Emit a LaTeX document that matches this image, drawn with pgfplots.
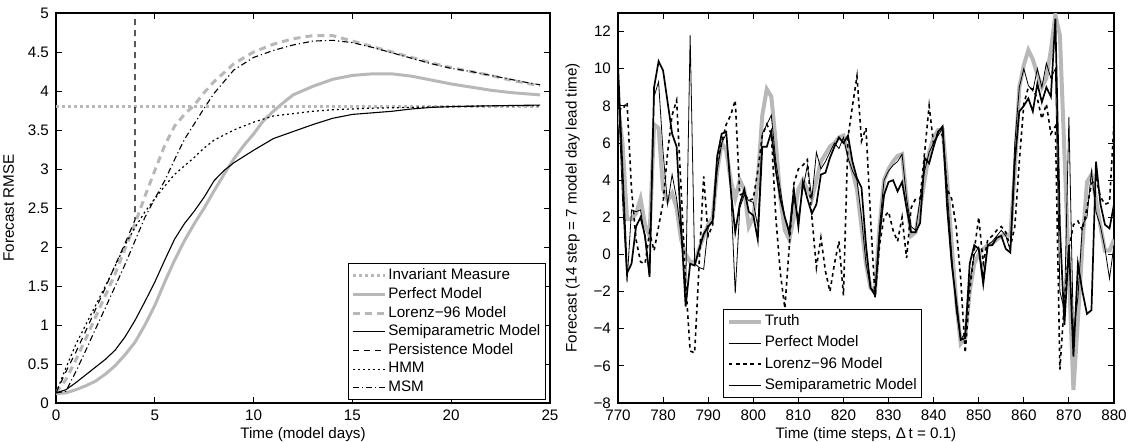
\documentclass[border=0pt]{standalone}
\usepackage{fontspec}
\setmainfont{Liberation Sans}
\usepackage{pgfplots}
\usepackage{pgfplotstable}
\pgfplotsset{compat=1.18}
\definecolor{lgray}{gray}{0.72}

% forecast at 14 steps: truth, perfect, lorenz-96, semiparametric
\pgfplotstableread{
t T P L S
770 8.0 9.0 7.9 10.2
771 6.0 3.0 7.8 4.5
772 1.9 -1.5 8.2 -1.0
773 1.9 2.4 3.5 -0.5
774 2.2 2.3 0.8 1.5
775 3.0 2.4 -0.4 2.0
776 1.6 0.8 -0.5 1.0
777 1.0 -1.2 1.2 -1.2
778 7.0 8.5 0.2 9.0
779 6.8 9.3 1.5 10.4
780 3.5 5.5 2.8 9.9
781 2.9 2.7 5.5 8.2
782 3.3 4.3 7.5 6.5
783 2.5 3.0 8.3 5.8
784 0.8 1.0 3.5 1.5
785 0.0 -2.0 -1.5 -2.8
786 -0.4 11.8 -5.2 -0.5
787 -0.4 -0.5 -5.3 -0.6
788 0.3 -0.7 -0.5 0.3
789 1.0 -0.8 4.2 1.1
790 1.6 1.5 1.0 1.5
791 2.0 1.8 1.6 1.8
792 4.5 4.5 5.0 5.3
793 6.0 6.0 6.0 6.5
794 5.6 6.5 7.0 6.6
795 4.0 3.5 7.5 3.5
796 3.0 -2.1 8.3 1.2
797 4.0 2.5 3.2 2.7
798 3.5 3.2 3.3 3.5
799 1.5 2.9 2.9 2.3
800 2.0 2.8 3.0 2.1
801 4.0 1.5 4.5 0.8
802 7.5 6.5 6.4 5.8
803 8.9 7.0 7.0 5.8
804 8.5 7.5 6.5 6.6
805 6.0 5.0 2.0 4.5
806 3.0 3.5 -1.0 3.0
807 1.3 2.0 -2.9 2.0
808 0.8 1.0 0.5 1.2
809 2.0 3.0 3.8 3.5
810 3.5 2.0 4.6 1.5
811 4.0 3.5 4.8 3.9
812 3.5 4.8 5.1 3.0
813 3.0 3.0 2.0 2.2
814 4.0 5.5 -0.7 2.7
815 5.0 4.6 0.9 4.3
816 5.4 5.0 -0.9 4.4
817 5.8 5.5 -2.0 5.2
818 6.0 6.0 -0.5 5.8
819 6.3 5.7 0.7 6.3
820 6.4 6.3 -2.2 6.0
821 5.5 5.2 6.3 6.4
822 4.5 4.5 8.0 5.0
823 3.5 4.0 9.6 4.1
824 1.5 2.0 6.1 3.6
825 -0.5 -0.5 6.8 0.5
826 -1.8 -1.8 2.0 -1.8
827 -2.0 -2.0 -2.3 -2.2
828 1.5 1.5 0.5 1.0
829 4.0 4.0 2.0 3.2
830 4.6 4.5 2.3 3.9
831 5.0 4.8 1.3 4.0
832 5.3 5.0 0.7 3.4
833 5.4 5.4 2.0 3.9
834 3.0 3.0 -0.2 2.5
835 1.0 1.5 2.5 1.2
836 1.2 1.3 3.0 1.2
837 2.5 3.0 3.0 1.7
838 4.0 4.5 5.5 5.2
839 5.5 5.5 8.0 4.9
840 6.3 6.0 5.9 5.8
841 6.7 6.4 6.6 6.6
842 6.7 6.8 6.4 6.9
843 4.0 3.5 3.5 2.5
844 0.5 0.0 3.0 -0.5
845 -2.5 -3.0 1.5 -2.5
846 -4.8 -4.6 -1.3 -4.6
847 -4.5 -4.2 -5.3 -4.5
848 -2.0 -1.5 -2.0 -0.5
849 -0.5 0.0 0.2 0.5
850 0.0 0.4 2.0 0.3
851 0.3 -1.2 -0.5 -1.6
852 0.5 0.5 0.8 0.5
853 0.6 0.7 1.0 0.5
854 0.8 1.0 1.3 0.9
855 1.0 1.3 1.5 1.0
856 1.1 1.0 1.2 0.3
857 1.0 0.2 0.4 0.1
858 4.5 6.0 1.5 5.0
859 9.0 9.0 5.0 7.7
860 10.2 10.0 8.1 8.0
861 11.0 9.1 9.0 8.4
862 10.5 8.8 8.9 7.7
863 9.7 10.0 8.4 9.2
864 9.0 9.0 7.3 8.2
865 9.5 10.3 8.1 9.0
866 11.0 9.5 6.5 8.5
867 12.9 10.0 6.9 12.7
868 11.8 -2.0 -6.2 1.5
869 5.5 -3.0 -2.5 -3.8
870 -1.0 7.4 0.3 0.5
871 -7.3 -4.3 1.6 -5.5
872 -3.5 -2.3 1.8 -0.5
873 0.5 1.6 1.3 -2.0
874 3.9 2.0 2.5 -3.2
875 4.3 4.5 3.8 -3.0
876 3.0 2.3 4.1 5.0
877 1.5 1.5 3.1 2.7
878 0.2 0.3 2.7 1.6
879 0.2 -1.3 2.8 1.4
880 0.8 0.5 7.1 2.7
}\fcast

\pgfplotsset{
  matstyle/.style={
    scale only axis,
    width=247pt, height=195pt,
    font=\fontsize{7.6}{9}\selectfont,
    axis line style={line width=0.6pt},
    tick style={line width=0.5pt, black},
    tick align=inside,
    major tick length=2.8pt,
    tick pos=both,
    xlabel style={yshift=3.5pt},
    /pgf/number format/assume math mode=true,
    /pgf/number format/fixed,
    legend cell align=left,
    legend image code/.code={
      \draw[mark repeat=2,mark phase=2] plot coordinates {(0pt,0pt) (8pt,0pt) (16pt,0pt)};},
    legend style={draw=black, line width=0.6pt,
      font=\fontsize{7.6}{9}\selectfont, inner sep=1.5pt,
      nodes={inner sep=1pt}},
  },
}

\begin{document}
\begin{tikzpicture}
\useasboundingbox (-28pt,-19pt) rectangle (536.5pt,201.5pt);

% ---- left: forecast RMSE
\begin{axis}[
  matstyle,
  at={(0,0)}, anchor=south west,
  xmin=0, xmax=25, ymin=0, ymax=5,
  xtick={0,5,10,15,20,25},
  ytick={0,0.5,1,1.5,2,2.5,3,3.5,4,4.5,5},
  xlabel={Time (model days)},
  ylabel={Forecast RMSE},
  legend style={at={(axis description cs:1,0)}, anchor=south east,
    xshift=-2pt, yshift=1.5pt, row sep=0.4pt},
]
\addplot[lgray, line width=1.5pt, dash pattern=on 1.5pt off 1.5pt]
  coordinates {(0,3.8) (24.5,3.8)};
\addlegendentry{Invariant Measure}
\addplot[lgray, line width=1.5pt]
  coordinates {(0,0.12) (0.5,0.13) (1,0.17) (1.5,0.22) (2,0.28) (2.5,0.37)
  (3,0.48) (3.5,0.62) (4,0.78) (4.5,1.0) (5,1.25) (5.5,1.55) (6,1.83)
  (6.5,2.08) (7,2.3) (7.5,2.5) (8,2.72) (8.5,2.93) (9,3.13) (9.5,3.3)
  (10,3.45) (10.5,3.62) (11,3.74) (11.5,3.85) (12,3.95) (13,4.06) (14,4.15)
  (15,4.2) (16,4.22) (17,4.22) (18,4.19) (19,4.14) (20,4.09) (21,4.05)
  (22,4.01) (23,3.98) (24,3.96) (24.5,3.95)};
\addlegendentry{Perfect Model}
\addplot[lgray, line width=1.5pt, dash pattern=on 3.5pt off 2.5pt]
  coordinates {(0,0.13) (0.5,0.3) (1,0.55) (1.5,0.82) (2,1.1) (2.5,1.38)
  (3,1.66) (3.5,1.98) (4,2.3) (4.5,2.65) (5,2.98) (5.5,3.3) (6,3.55)
  (6.5,3.7) (7,3.82) (7.5,3.98) (8,4.12) (9,4.35) (10,4.5) (11,4.6)
  (12,4.67) (13,4.71) (14,4.71) (15,4.64) (16,4.57) (17,4.5) (18,4.43)
  (19,4.36) (20,4.3) (21,4.25) (22,4.2) (23,4.14) (24,4.09) (24.5,4.07)};
\addlegendentry{Lorenz−96 Model}
\addplot[black, line width=0.55pt]
  coordinates {(0,0.13) (0.5,0.17) (1,0.26) (1.5,0.36) (2,0.46) (2.5,0.56)
  (3,0.68) (3.5,0.85) (4,1.06) (4.5,1.3) (5,1.55) (5.5,1.83) (6,2.1)
  (6.5,2.3) (7,2.46) (7.5,2.64) (8,2.85) (8.5,2.98) (9,3.08) (10,3.24)
  (11,3.39) (12,3.48) (13,3.57) (14,3.65) (15,3.7) (16,3.72) (17,3.74)
  (18,3.77) (19,3.79) (20,3.8) (22,3.81) (24.5,3.82)};
\addlegendentry{Semiparametric Model}
\addplot[black, line width=0.55pt, dash pattern=on 3pt off 2.5pt]
  coordinates {(0,0.13) (0.5,0.4) (1,0.65) (1.5,0.92) (2,1.2) (2.5,1.48)
  (3,1.77) (3.5,2.05) (4,2.35) (4,6)};
\addlegendentry{Persistence Model}
\addplot[black, line width=0.6pt, dash pattern=on 1pt off 1.5pt]
  coordinates {(0,0.13) (0.5,0.45) (1,0.75) (1.5,1.0) (2,1.25) (2.5,1.5)
  (3,1.76) (3.5,2.03) (4,2.25) (4.5,2.45) (5,2.62) (5.5,2.78) (6,2.93)
  (6.5,3.04) (7,3.15) (7.5,3.27) (8,3.37) (9,3.5) (10,3.6) (11,3.68)
  (12,3.71) (13,3.74) (14,3.76) (15,3.77) (16,3.78) (18,3.79) (20,3.8)
  (22,3.81) (24.5,3.81)};
\addlegendentry{HMM}
\addplot[black, line width=0.55pt, dash pattern=on 3pt off 1.5pt on 0.6pt off 1.5pt]
  coordinates {(0,0.13) (0.5,0.15) (1,0.4) (1.5,0.67) (2,0.95) (2.5,1.22)
  (3,1.5) (3.5,1.78) (4,2.08) (4.5,2.38) (5,2.62) (5.5,2.85) (6,3.12)
  (6.5,3.38) (7,3.58) (7.5,3.78) (8,3.97) (9,4.27) (10,4.43) (11,4.52)
  (12,4.59) (13,4.64) (14,4.65) (15,4.62) (16,4.56) (17,4.49) (18,4.42)
  (19,4.35) (20,4.29) (21,4.25) (22,4.2) (23,4.15) (24,4.1) (24.5,4.08)};
\addlegendentry{MSM}
\end{axis}

% ---- right: 14 step forecasts
\begin{axis}[
  matstyle,
  at={(281pt,0)}, anchor=south west,
  width=248pt,
  xmin=770, xmax=880, ymin=-8, ymax=13,
  xtick={770,780,...,880},
  ytick={-8,-6,-4,-2,0,2,4,6,8,10,12},
  yticklabels={−8,−6,−4,−2,0,2,4,6,8,10,12},
  xticklabel style={/pgf/number format/1000 sep={}},
  xlabel={Time (time steps, Δ\,t = 0.1)},
  ylabel={Forecast (14 step = 7 model day lead time)},
  legend style={at={(axis description cs:0.212,0)}, anchor=south west,
    yshift=2.5pt, row sep=1.6pt},
]
\addplot[lgray, line width=2pt] table[x=t, y=T] {\fcast};
\addlegendentry{Truth}
\addplot[black, line width=0.4pt] table[x=t, y=P] {\fcast};
\addlegendentry{Perfect Model}
\addplot[black, line width=0.8pt, dash pattern=on 1.8pt off 1.8pt] table[x=t, y=L] {\fcast};
\addlegendentry{Lorenz−96 Model}
\addplot[black, line width=0.85pt] table[x=t, y=S] {\fcast};
\addlegendentry{Semiparametric Model}
\end{axis}
\end{tikzpicture}
\end{document}
